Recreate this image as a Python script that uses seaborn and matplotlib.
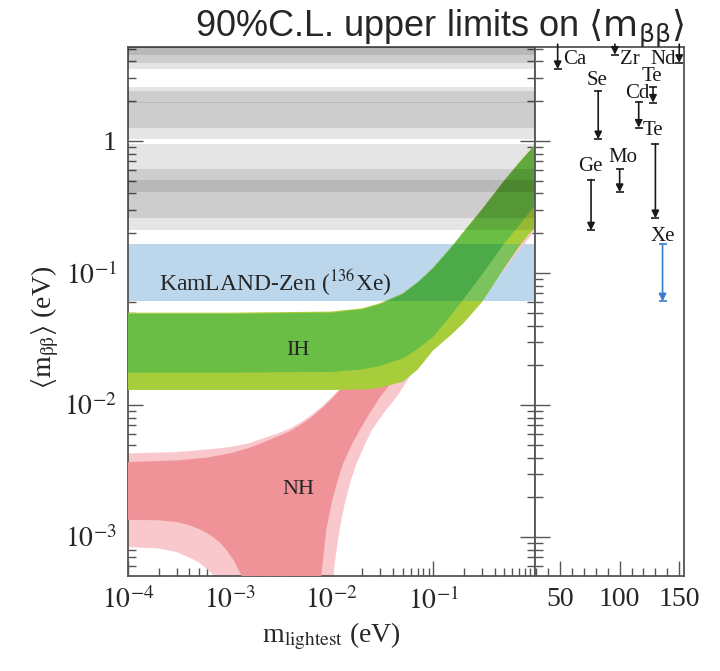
import numpy as np
import matplotlib
matplotlib.use("Agg")
import matplotlib.pyplot as plt
import seaborn as sns
from matplotlib.ticker import FixedLocator, FuncFormatter, LogLocator, MultipleLocator, NullFormatter

sns.set_theme(style="ticks")
plt.rcParams["font.family"] = ["Liberation Serif", "DejaVu Serif"]
plt.rcParams["mathtext.fontset"] = "stix"

# 90% C.L. upper limit ranges per isotope (eV)
isotopes = ["Ca", "Ge", "Se", "Zr", "Mo", "Cd", "Te", "Te", "Xe", "Nd"]
mass_number = [48, 76, 82, 96, 100, 116, 128, 130, 136, 150]
limit_lo = [3.5, 0.21, 1.03, 4.5, 0.41, 1.26, 1.95, 0.26, 0.061, 3.9]
limit_hi = [22.0, 0.51, 2.4, 19.5, 0.61, 1.98, 2.55, 0.95, 0.165, 6.3]

# inverted hierarchy band
ih_x = [1e-4, 1e-3, 1e-2, 0.02, 0.03, 0.05, 0.07, 0.1, 0.15, 0.2, 0.3, 0.5, 0.7, 1.0]
ih_dark_hi = [0.049, 0.049, 0.050, 0.053, 0.058, 0.069, 0.084, 0.108, 0.155, 0.205, 0.30, 0.50, 0.68, 0.93]
ih_light_hi = [0.050, 0.050, 0.051, 0.054, 0.059, 0.070, 0.085, 0.110, 0.157, 0.207, 0.303, 0.505, 0.69, 0.94]
ih_dark_lo = [0.0176, 0.0176, 0.0178, 0.0186, 0.0198, 0.0225, 0.0265, 0.033, 0.048, 0.064, 0.097, 0.168, 0.23, 0.327]
ih_light_lo = [0.0130, 0.0130, 0.0130, 0.0131, 0.0135, 0.0150, 0.0185, 0.026, 0.034, 0.042, 0.060, 0.110, 0.160, 0.223]

# normal hierarchy band: upper edge and (funnel shaped) lower edge
nh_hi_x = [1e-4, 3e-4, 6e-4, 1e-3, 1.5e-3, 2e-3, 3e-3, 4e-3, 5e-3, 6.5e-3, 8e-3, 1e-2,
           1.3e-2, 1.7e-2, 0.025, 0.05, 0.1, 0.3, 1.0]
nh_light_hi = [0.0043, 0.0044, 0.0046, 0.0048, 0.0051, 0.0055, 0.0061, 0.0067, 0.0074, 0.0085, 0.0097, 0.0114,
               0.0141, 0.0178, 0.0255, 0.050, 0.100, 0.30, 0.93]
nh_dark_hi = [0.0037, 0.0038, 0.0040, 0.0043, 0.0047, 0.0051, 0.0058, 0.0064, 0.0071, 0.0082, 0.0094, 0.0111,
              0.0138, 0.0175, 0.0250, 0.049, 0.098, 0.29, 0.92]
nh_dark_lo_x = [1e-4, 2e-4, 3e-4, 4e-4, 5e-4, 6.5e-4, 8e-4, 9.5e-4, 1.1e-3, 1.2e-3, 1.3e-3, 1.4e-3, 1.45e-3,
                7.8e-3, 8.2e-3, 8.9e-3, 1.0e-2, 1.15e-2, 1.3e-2, 1.6e-2, 1.9e-2, 2.4e-2, 3.0e-2, 3.8e-2,
                4.7e-2, 0.07, 0.1, 0.3, 1.0]
nh_dark_lo = [0.00135, 0.00134, 0.0013, 0.00123, 0.00115, 0.00103, 0.00091, 0.00078, 0.00066, 0.00058, 0.00051,
              0.00047, 4.5e-4,
              4.5e-4, 6.5e-4, 0.00114, 0.0018, 0.0027, 0.0036, 0.0051, 0.0065, 0.0088, 0.0115, 0.0145,
              0.0175, 0.024, 0.033, 0.098, 0.32]
nh_light_lo_x = [1e-4, 2e-4, 3e-4, 4e-4, 5e-4, 6e-4, 7e-4, 7.6e-4,
                 0.0103, 0.0108, 0.012, 0.0135, 0.0155, 0.0176, 0.021, 0.025, 0.033, 0.0436, 0.056, 0.073,
                 0.09, 0.115, 0.2, 0.3, 1.0]
nh_light_lo = [0.00084, 0.00082, 0.00077, 0.0007, 0.00064, 0.00057, 0.00051, 4.5e-4,
               4.5e-4, 6.5e-4, 0.00114, 0.0018, 0.0027, 0.0036, 0.0049, 0.0065, 0.0088, 0.0115, 0.0155, 0.0208,
               0.025, 0.0295, 0.05, 0.065, 0.21]

C_IH_DARK, C_IH_LIGHT = "#6abd45", "#a8cd3b"
C_IH_DARK_XE, C_IH_LIGHT_XE = "#4caa48", "#7cc35e"
C_NH_DARK, C_NH_LIGHT = "#f09398", "#f8c8cc"
C_XE = "#bcd6ec"
C_AX = "#555555"

fig = plt.figure(figsize=(7.2, 6.71), dpi=100)
ax = fig.add_axes([0.1778, 0.1416, 0.5653, 0.7884])
axr = fig.add_axes([0.7431, 0.1416, 0.2069, 0.7884], sharey=ax)

ylo, yhi = 5.07e-4, 5.15
ax.set_xscale("log")
ax.set_yscale("log")
ax.set_xlim(1e-4, 1.0)
ax.set_ylim(ylo, yhi)

# KamLAND-Zen band
xe = isotopes.index("Xe")
xe_span = ax.axhspan(limit_lo[xe], limit_hi[xe], color=C_XE, lw=0, zorder=1)


def band(a, xu, yu, xl, yl, color, z, clip=None):
    xs = np.concatenate([xu, xl[::-1]])
    ys = np.concatenate([yu, yl[::-1]])
    p = a.fill(xs, ys, color=color, lw=0, zorder=z)[0]
    if clip is not None:
        p.set_clip_path(clip)
    return p


band(ax, nh_hi_x, nh_light_hi, nh_light_lo_x, nh_light_lo, C_NH_LIGHT, 2)
band(ax, nh_hi_x, nh_dark_hi, nh_dark_lo_x, nh_dark_lo, C_NH_DARK, 3)
band(ax, ih_x, ih_light_hi, ih_x, ih_light_lo, C_IH_LIGHT, 4)
band(ax, ih_x, ih_dark_hi, ih_x, ih_dark_lo, C_IH_DARK, 5)
band(ax, ih_x, ih_light_hi, ih_x, ih_light_lo, C_IH_LIGHT_XE, 6, clip=xe_span)
band(ax, ih_x, ih_dark_hi, ih_x, ih_dark_lo, C_IH_DARK_XE, 7, clip=xe_span)

# older limits as grey bands (overlaps get darker)
for name, lo, hi in zip(isotopes, limit_lo, limit_hi):
    if name == "Xe":
        continue
    ax.axhspan(lo, hi, color="black", alpha=0.1, lw=0, zorder=8)

ax.text(2.8e-3, 0.084, r"KamLAND-Zen ($^{136}$Xe)", fontsize=17, ha="center", va="center", zorder=10)
ax.text(4.7e-3, 0.026, "IH", fontsize=16, ha="center", va="center", zorder=10)
ax.text(4.7e-3, 0.0023, "NH", fontsize=16, ha="center", va="center", zorder=10)


def log_label(v, pos):
    if np.isclose(v, 1.0):
        return "1"
    return r"$10^{%d}$" % int(round(np.log10(v)))


ax.xaxis.set_major_locator(FixedLocator([1e-4, 1e-3, 1e-2, 1e-1, 1.0]))
ax.xaxis.set_major_formatter(FuncFormatter(lambda v, p: "" if np.isclose(v, 1.0) else log_label(v, p)))
ax.xaxis.set_minor_locator(LogLocator(base=10, subs=np.arange(2, 10)))
ax.xaxis.set_minor_formatter(NullFormatter())
ax.yaxis.set_major_locator(FixedLocator([1e-3, 1e-2, 1e-1, 1.0]))
ax.yaxis.set_major_formatter(FuncFormatter(log_label))
ax.yaxis.set_minor_locator(LogLocator(base=10, subs=np.arange(2, 10)))
ax.yaxis.set_minor_formatter(NullFormatter())
ax.tick_params(which="both", direction="in", top=False, right=True, color=C_AX, width=1.0)
ax.tick_params(which="major", length=11, labelsize=20, pad=8)
ax.tick_params(which="minor", length=6)

ax.set_xlabel(r"m$_{\mathrm{lightest}}$ (eV)", fontsize=20)
ax.set_ylabel(r"$\langle\mathrm{m}_{\mathrm{ββ}}\rangle$ (eV)", fontsize=20)
ax.xaxis.set_label_coords(0.50, -0.085)
ax.yaxis.set_label_coords(-0.165, 0.47)

# right panel: limits per isotope vs mass number
axr.set_xlim(29, 154)
label_offsets = {
    0: ("lo", 17, 10), 1: ("hi", -1, 13), 2: ("hi", -1, 10), 3: ("lo", 15, -5), 4: ("hi", 3, 12),
    5: ("hi", -1, 8), 6: ("hi", -1, 11), 7: ("hi", -2, 13), 8: ("hi", 0, 8), 9: ("lo", -16, 3),
}
for i, (name, a, lo, hi) in enumerate(zip(isotopes, mass_number, limit_lo, limit_hi)):
    col = "#3a7dc8" if name == "Xe" else "#1a1a1a"
    top = min(hi, yhi * 1.05)
    axr.annotate("", xy=(a, lo), xytext=(a, top),
                 arrowprops=dict(arrowstyle="-|>", color=col, lw=1.2, mutation_scale=11,
                                 shrinkA=0, shrinkB=0), annotation_clip=False)
    axr.plot([a], [lo], marker="_", ms=6, mew=1.2, color=col, clip_on=False)
    if hi < yhi:
        axr.plot([a], [hi], marker="_", ms=6, mew=1.2, color=col)
    anchor, dx, dy = label_offsets[i]
    axr.annotate(name, xy=(a, lo if anchor == "lo" else hi), xytext=(dx, dy),
                 textcoords="offset pixels", ha="center", va="center", fontsize=15, color="#1a1a1a")

axr.xaxis.set_major_locator(FixedLocator([50, 100, 150]))
axr.xaxis.set_minor_locator(MultipleLocator(10))
axr.tick_params(which="both", direction="in", left=True, right=False, top=False, color=C_AX, width=1.0)
axr.tick_params(axis="y", which="both", labelleft=False)
axr.tick_params(which="major", length=11, labelsize=20, pad=8)
axr.tick_params(which="minor", length=6)

for a in (ax, axr):
    for s in a.spines.values():
        s.set_color(C_AX)
        s.set_linewidth(1.3)

fig.text(0.611, 0.957, r"90%C.L. upper limits on $\langle\mathrm{m}_{\mathrm{ββ}}\rangle$",
         fontsize=26, family="Liberation Sans", math_fontfamily="dejavusans", ha="center", va="center")

fig.savefig("out.png", dpi=100)
